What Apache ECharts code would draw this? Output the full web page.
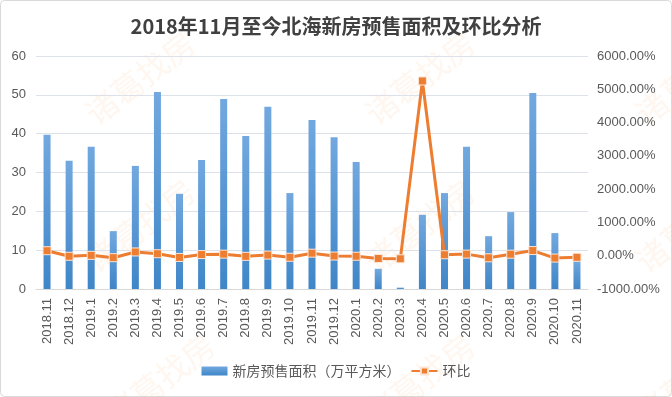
<!DOCTYPE html>
<html>
<head>
<meta charset="utf-8">
<script src="https://cdn.jsdelivr.net/npm/echarts@6/dist/echarts.min.js"></script>
<style>html,body{margin:0;padding:0;background:#fff}#c{width:672px;height:397px}</style>
</head>
<body>
<div id="c"></div>
<script>
const categories = ['2018.11','2018.12','2019.1','2019.2','2019.3','2019.4','2019.5','2019.6','2019.7','2019.8','2019.9','2019.10','2019.11','2019.12','2020.1','2020.2','2020.3','2020.4','2020.5','2020.6','2020.7','2020.8','2020.9','2020.10','2020.11'];
const areaValues = [39.7,33.0,36.6,14.9,31.7,50.7,24.5,33.2,48.9,39.4,46.9,24.7,43.5,39.1,32.7,5.2,0.36,19.1,24.7,36.6,13.6,19.8,50.5,14.4,7.5];
const momValues = [150,-17,11,-59,113,60,-52,35,47,-19,19,-47,76,-10,-16,-84,-93,5250,29,48,-63,46,155,-71,-48];
const leftTicks = {min:0, max:60, interval:10};
const rightTicks = {min:-1000, max:6000, interval:1000};

const chart = echarts.init(document.getElementById('c'));
const wmPos = [[140,78],[420,78],[690,78],[140,226],[420,226],[690,226],[160,380],[420,380],[690,380]];
const graphics = wmPos.map(p => ({
  type:'text', x:p[0], y:p[1], rotation: Math.PI*38/180, z:-1,
  style:{text:'诸葛找房', fill:'rgba(246,170,110,0.11)', font:'32px "Noto Sans CJK SC"', align:'center', verticalAlign:'middle'}
}));
graphics.push({type:'rect', shape:{x:0.5,y:0.5,width:671,height:396,r:4}, style:{fill:'none', stroke:'#d9d9d9', lineWidth:1}, z:-2});
chart.setOption({
  backgroundColor:'#fff',
  textStyle:{fontFamily:'"Noto Sans CJK SC", sans-serif'},
  title:{text:'2018年11月至今北海新房预售面积及环比分析', left:'center', top:11,
    textStyle:{fontSize:20, fontWeight:'bold', color:'#404040', fontFamily:'"Noto Sans CJK SC", sans-serif'}},
  graphic: graphics,
  grid:{left:36, right:84, top:56, bottom:108},
  legend:{bottom:14, left:'center', itemGap:10, itemWidth:26, itemHeight:9,
    textStyle:{fontSize:14, color:'#595959'},
    data:[{name:'新房预售面积（万平方米）', icon:'rect'}, {name:'环比'}]},
  xAxis:{type:'category', data:categories,
    axisLine:{lineStyle:{color:'#d9d9d9'}}, axisTick:{show:false},
    axisLabel:{rotate:90, interval:0, fontSize:13, color:'#595959', margin:9, fontFamily:'"Liberation Sans", sans-serif'}},
  yAxis:[
    {type:'value', min:leftTicks.min, max:leftTicks.max, interval:leftTicks.interval,
     axisLine:{show:false}, axisTick:{show:false},
     splitLine:{lineStyle:{color:'#dde2ea'}},
     axisLabel:{fontSize:13, color:'#595959', margin:10, fontFamily:'"Liberation Sans", sans-serif'}},
    {type:'value', min:rightTicks.min, max:rightTicks.max, interval:rightTicks.interval,
     axisLine:{show:false}, axisTick:{show:false}, splitLine:{show:false},
     axisLabel:{fontSize:13, color:'#595959', margin:9, fontFamily:'"Liberation Sans", sans-serif',
       formatter: v => v.toFixed(2)+'%'}}
  ],
  series:[
    {name:'新房预售面积（万平方米）', type:'bar', data:areaValues, barWidth:7, yAxisIndex:0,
     itemStyle:{color:new echarts.graphic.LinearGradient(0,0,0,1,[{offset:0,color:'#72a8df'},{offset:1,color:'#3f86c8'}])}},
    {name:'环比', type:'line', data:momValues, yAxisIndex:1, z:5,
     symbol:'rect', symbolSize:8, showAllSymbol:true,
     lineStyle:{color:'#ed7d31', width:3},
     itemStyle:{color:'#ed7d31', borderColor:'#fbe5d6', borderWidth:1}}
  ]
});
</script>
</body>
</html>
